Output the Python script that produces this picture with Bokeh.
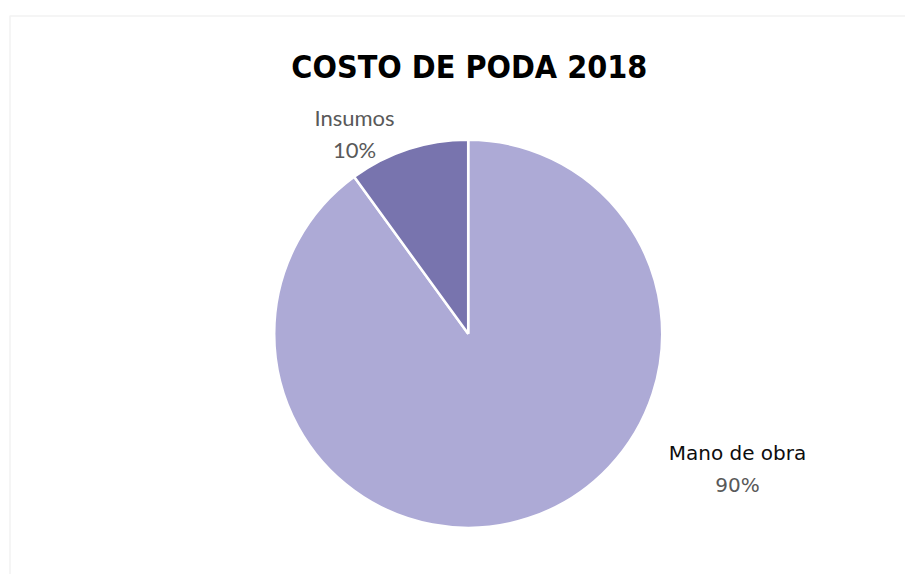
import math
from bokeh.plotting import figure
from bokeh.models import Range1d, BoxAnnotation, ColumnDataSource
from bokeh.core.properties import value
from bokeh.embed import file_html
from bokeh.resources import INLINE

# ---- data ----
title_text = "COSTO DE PODA 2018"
categories = ["Mano de obra", "Insumos"]
values = [90, 10]

# ---- style ----
colors = ["#ADAAD6", "#7874AE"]
name_colors = ["#0D0D0D", "#595959"]
pct_colors = ["#595959", "#595959"]
label_fonts = ["DejaVu Sans", "Lato"]
label_sizes = ["20px", "22px"]
# label anchor (x centre, name baseline, pct baseline) in picture pixels
label_x = [737, 354]
label_name_y = [452.7, 117.3]
label_pct_y = [484.0, 148.7]

W, H = 905, 574
def py(pic_y):
    return H - pic_y

p = figure(width=W, height=H, output_backend="svg", toolbar_location=None,
           x_range=Range1d(0, W), y_range=Range1d(0, H),
           x_axis_location=None, y_axis_location=None,
           min_border=0, background_fill_color="white",
           border_fill_color="white", outline_line_color=None)
p.grid.visible = False

# chart border (only left/top visible in window)
p.add_layout(BoxAnnotation(left=9.5, right=3000, top=py(15.5), bottom=-3000,
                           fill_alpha=0, line_color="#D4D4D4", line_width=1.6))

# pie wedges
total = sum(values)
starts, ends = [], []
cum = 0.0
for v in values:
    starts.append(math.pi / 2 - 2 * math.pi * cum / total)
    cum += v
    ends.append(math.pi / 2 - 2 * math.pi * cum / total)

src = ColumnDataSource(dict(cat=categories, val=values, start=starts, end=ends,
                            color=colors))
cx, cy, r = 467.7, py(333.3), 194
p.wedge(x=cx, y=cy, radius=r, start_angle="start", end_angle="end",
        direction="clock", fill_color="color", line_color="white",
        line_width=2.5, source=src)

# data labels
pcts = ["%d%%" % round(100 * v / total) for v in values]
for i in range(len(categories)):
    p.text(x=[label_x[i]], y=[py(label_name_y[i])], text=[categories[i]],
           text_font=value(label_fonts[i]), text_font_size=label_sizes[i],
           text_color=name_colors[i], text_align="center",
           text_baseline="alphabetic")
    p.text(x=[label_x[i]], y=[py(label_pct_y[i])], text=[pcts[i]],
           text_font=value(label_fonts[i]), text_font_size=label_sizes[i],
           text_color=pct_colors[i], text_align="center",
           text_baseline="alphabetic")

# title
p.text(x=[468.8], y=[py(66.7)], text=[title_text],
       text_font=value("DejaVu Sans Condensed"), text_font_size="32px",
       text_font_style="bold", text_color="#000000", text_align="center",
       text_baseline="alphabetic")

open("out.html", "w").write(file_html(p, INLINE))
